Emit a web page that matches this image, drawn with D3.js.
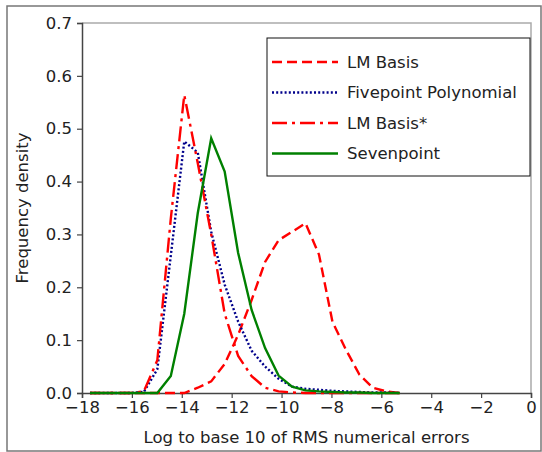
<!DOCTYPE html>
<html>
<head>
<meta charset="utf-8">
<script src="https://cdn.jsdelivr.net/npm/d3@7"></script>
<style>
  body { margin: 0; background: #fff; }
  svg text { font-family: "DejaVu Sans", sans-serif; fill: #222; }
</style>
</head>
<body>
<div id="chart"></div>
<script>
// bin centres (log10 of RMS error)
var binCentres = [-17.68, -17.14, -16.60, -16.06, -15.52, -14.98, -14.44, -13.90,
                  -13.36, -12.82, -12.28, -11.74, -11.20, -10.66, -10.12, -9.58,
                  -9.04, -8.50, -7.96, -7.42, -6.88, -6.34, -5.80, -5.26];

var lmBasis     = [0, 0, 0, 0, 0, 0, 0, 0,
                   0.010, 0.022, 0.055, 0.110, 0.176, 0.248, 0.289, 0.305,
                   0.321, 0.262, 0.135, 0.082, 0.035, 0.010, 0.003, 0];
var fivepoint   = [0, 0, 0, 0, 0.002, 0.045, 0.26, 0.476,
                   0.455, 0.305, 0.205, 0.135, 0.080, 0.050, 0.027, 0.012,
                   0.008, 0.006, 0.004, 0.003, 0.002, 0.001, 0.001, 0];
var lmBasisStar = [0, 0, 0, 0, 0.003, 0.062, 0.33, 0.564,
                   0.435, 0.300, 0.150, 0.070, 0.032, 0.010, 0.003, 0.001,
                   0, 0, 0, 0, 0, 0, 0, 0];
var sevenpoint  = [0, 0, 0, 0, 0, 0, 0.032, 0.150,
                   0.340, 0.482, 0.419, 0.265, 0.157, 0.085, 0.033, 0.012,
                   0.005, 0.003, 0.002, 0.001, 0.001, 0, 0, 0];

var xTicks = [-18, -16, -14, -12, -10, -8, -6, -4, -2, 0];
var yTicks = [0.0, 0.1, 0.2, 0.3, 0.4, 0.5, 0.6, 0.7];

var series = [
  {name: 'LM Basis',             values: lmBasis,     color: '#ff0000', dash: '10,5'},
  {name: 'Fivepoint Polynomial', values: fivepoint,   color: '#00008b', dash: '2,2.2'},
  {name: 'LM Basis*',            values: lmBasisStar, color: '#ff0000', dash: '15,5,3,5'},
  {name: 'Sevenpoint',           values: sevenpoint,  color: '#008000', dash: null}
];

var width = 542, height = 452;
var margin = {left: 82, right: 11, top: 23, bottom: 59};
var fontSize = 16.5;

var svg = d3.select('#chart').append('svg')
    .attr('width', width)
    .attr('height', height);

// outer frame
svg.append('rect')
    .attr('x', 7).attr('y', 6)
    .attr('width', 534).attr('height', 445)
    .attr('fill', 'none')
    .attr('stroke', '#777')
    .attr('stroke-width', 1.5);

var x = d3.scaleLinear().domain([-18, 0]).range([margin.left, width - margin.right]);
var y = d3.scaleLinear().domain([0, 0.7]).range([height - margin.bottom, margin.top]);

// top and right spines (light)
svg.append('path')
    .attr('d', 'M' + x(-18) + ',' + y(0.7) + 'H' + x(0) + 'V' + y(0))
    .attr('fill', 'none')
    .attr('stroke', '#aaa')
    .attr('stroke-width', 1.5);

var xAxis = svg.append('g')
    .attr('transform', 'translate(0,' + y(0) + ')')
    .call(d3.axisBottom(x).tickValues(xTicks).tickSize(5).tickPadding(3).tickFormat(d3.format('d')));

var yAxis = svg.append('g')
    .attr('transform', 'translate(' + x(-18) + ',0)')
    .call(d3.axisLeft(y).tickValues(yTicks).tickSize(5).tickPadding(5).tickFormat(d3.format('.1f')));

[xAxis, yAxis].forEach(function(a) {
  a.select('.domain').attr('stroke', '#444').attr('stroke-width', 1.5);
  a.selectAll('.tick line').attr('stroke', '#444').attr('stroke-width', 1.2);
  a.selectAll('.tick text').style('font-size', fontSize + 'px').attr('fill', '#222');
});

// curves
var line = d3.line()
    .x(function(d, i) { return x(binCentres[i]); })
    .y(function(d) { return y(d); });

svg.append('g').selectAll('path')
    .data(series)
    .enter()
    .append('path')
    .attr('d', function(d) { return line(d.values); })
    .attr('fill', 'none')
    .attr('stroke', function(d) { return d.color; })
    .attr('stroke-width', 2.4)
    .attr('stroke-dasharray', function(d) { return d.dash; });

// axis labels
svg.append('text')
    .attr('x', (x(-18) + x(0)) / 2)
    .attr('y', 443)
    .attr('text-anchor', 'middle')
    .style('font-size', fontSize + 'px')
    .text('Log to base 10 of RMS numerical errors');

svg.append('text')
    .attr('transform', 'translate(28,' + ((y(0) + y(0.7)) / 2) + ') rotate(-90)')
    .attr('text-anchor', 'middle')
    .style('font-size', fontSize + 'px')
    .text('Frequency density');

// legend
var legend = svg.append('g');
legend.append('rect')
    .attr('x', 267).attr('y', 38)
    .attr('width', 263).attr('height', 138)
    .attr('fill', '#fff')
    .attr('stroke', '#111')
    .attr('stroke-width', 1);

var rows = legend.selectAll('g.row')
    .data(series)
    .enter()
    .append('g')
    .attr('class', 'row')
    .attr('transform', function(d, i) { return 'translate(0,' + (62 + i * 30.5) + ')'; });

rows.append('line')
    .attr('x1', 272).attr('x2', 338)
    .attr('stroke', function(d) { return d.color; })
    .attr('stroke-width', 2.4)
    .attr('stroke-dasharray', function(d) { return d.dash; });

rows.append('text')
    .attr('x', 347)
    .attr('dy', '0.35em')
    .style('font-size', fontSize + 'px')
    .text(function(d) { return d.name; });
</script>
</body>
</html>
